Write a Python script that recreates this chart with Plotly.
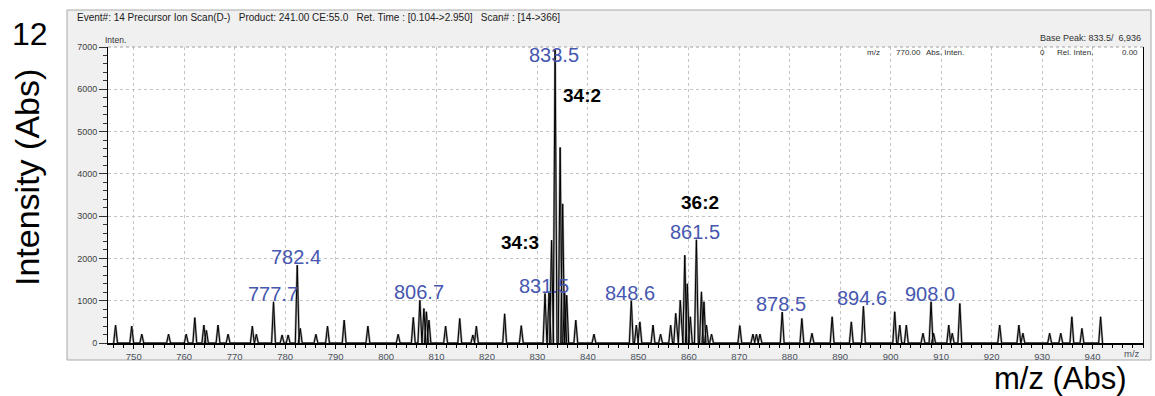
import plotly.graph_objects as go

# Precursor ion scan (D-), product m/z 241.00 — centroid peaks read as m/z / abs. intensity
peak_mz = [
    746.4, 749.6, 751.6, 756.9, 760.4, 762.1, 763.9, 764.4, 766.7, 768.7,
    773.5, 774.3, 777.7, 779.4, 780.6, 782.4, 783.0, 786.1, 788.4, 791.7,
    796.4, 802.4, 805.4, 806.7, 807.5, 808.0, 808.5, 811.8, 814.6, 817.2,
    817.9, 823.5, 826.8, 831.5, 832.3, 832.8, 833.5, 834.5, 835.0, 835.4,
    835.8, 837.6, 841.2, 848.6, 849.6, 850.3, 852.9, 854.4, 856.4, 857.4,
    858.3, 859.2, 859.7, 860.3, 861.5, 862.5, 863.0, 863.5, 864.5, 870.1,
    872.7, 873.4, 874.1, 878.5, 882.4, 884.4, 888.4, 892.2, 894.6, 900.8,
    901.8, 903.1, 906.4, 908.0, 908.5, 911.5, 912.2, 913.7, 921.6, 925.4,
    926.2, 931.5, 933.7, 935.9, 937.9, 941.6,
]
peak_int = [
    420, 400, 210, 210, 210, 600, 425, 300, 425, 210,
    400, 205, 975, 190, 190, 1840, 345, 205, 400, 540,
    400, 205, 605, 1010, 815, 740, 540, 400, 580, 190,
    400, 690, 410, 1170, 1210, 2430, 6936, 4625, 3290, 1175,
    1130, 540, 210, 1000, 425, 500, 425, 210, 425, 700,
    1010, 2075, 1400, 620, 2440, 1210, 975, 425, 210, 410,
    210, 210, 210, 730, 580, 230, 620, 500, 870, 740,
    425, 425, 230, 975, 230, 425, 230, 935, 425, 425,
    230, 230, 230, 620, 345, 620,
]

# peaks annotated with their m/z
labelled_mz = [777.7, 782.4, 806.7, 831.5, 833.5, 848.6, 861.5, 878.5, 894.6, 908.0]

# lipid species annotations: (text, m/z, intensity)
species = [("34:2", 838.8, 5845), ("34:3", 826.5, 2380), ("36:2", 862.2, 3323)]

x_ticks = list(range(750, 941, 10))
y_ticks = list(range(0, 7001, 1000))

X_RANGE = [744.9, 950.0]
Y_RANGE = [0, 7000]

# plot-area pixel box inside the 1155x396 page
L, R, T, B = 108, 1143, 47, 343


def px(x):
    return (x - L) / (R - L)


def py(y):
    return (B - y) / (B - T)


# narrow triangular profile for each centroid
HALF = 0.38
prof_x, prof_y = [], []
for mz, h in sorted(zip(peak_mz, peak_int)):
    prof_x += [mz - HALF, mz, mz + HALF]
    prof_y += [0, h, 0]

fig = go.Figure()
# soft grey halo under the black trace, as the instrument software renders it
fig.add_trace(go.Scatter(x=prof_x, y=prof_y, mode="lines",
                         line=dict(color="#9a9a9a", width=2.2),
                         hoverinfo="skip"))
fig.add_trace(go.Scatter(x=prof_x, y=prof_y, mode="lines",
                         line=dict(color="black", width=1),
                         hoverinfo="skip"))

grid = dict(showgrid=True, gridcolor="#c4c4c4", gridwidth=1, griddash="3px,3px")

fig.update_xaxes(range=X_RANGE, tickvals=x_ticks, ticks="outside", ticklen=4,
                 tickcolor="black", showline=True, linecolor="black", linewidth=2,
                 zeroline=False,
                 tickfont=dict(family="Liberation Sans", size=9.5, color="#4a505c"),
                 minor=dict(tick0=750, dtick=2, ticks="outside", ticklen=3,
                            tickcolor="black", showgrid=False),
                 **grid)
fig.update_yaxes(range=Y_RANGE, tickvals=y_ticks, ticks="outside", ticklen=8,
                 tickcolor="#333333", showline=True, linecolor="black", linewidth=1,
                 mirror=True, zeroline=False,
                 tickfont=dict(family="Liberation Sans", size=9, color="#404040"),
                 minor=dict(tick0=0, dtick=200, ticks="outside", ticklen=4,
                            tickcolor="#333333", showgrid=False),
                 **grid)

shapes = [
    # instrument window panel
    dict(type="rect", xref="paper", yref="paper", layer="below",
         x0=px(67), x1=px(1151), y0=py(360), y1=py(10),
         fillcolor="#f0f0f0", line=dict(color="#a8a8a8", width=1)),
    # white spectrum area
    dict(type="rect", xref="paper", yref="paper", layer="below",
         x0=0, x1=1, y0=0, y1=1, fillcolor="white", line=dict(width=0)),
    # dashed top edge
    dict(type="line", xref="paper", yref="paper", x0=0, x1=1, y0=1, y1=1,
         line=dict(color="#a0a0a0", width=1, dash="3px,3px")),
]

ann = []
BLUE = "#4657b0"
for mz in labelled_mz:
    h = peak_int[peak_mz.index(mz)]
    ann.append(dict(x=mz, y=min(h, 6620), xref="x", yref="y", text=f"{mz:.1f}",
                    showarrow=False, xanchor="center", yanchor="middle",
                    xshift=-1, yshift=8,
                    font=dict(family="Liberation Sans", size=20, color=BLUE)))
for txt, mz, h in species:
    ann.append(dict(x=mz, y=h, xref="x", yref="y", text=f"<b>{txt}</b>",
                    showarrow=False, xanchor="center", yanchor="middle",
                    font=dict(family="Liberation Sans", size=19, color="black")))

small = dict(family="Liberation Sans", size=9, color="#303030")
ann += [
    dict(x=px(75), y=py(17), xref="paper", yref="paper", xanchor="left",
         yanchor="middle", showarrow=False,
         text="Event#: 14 Precursor Ion Scan(D-)&nbsp;&nbsp;&nbsp;Product: 241.00 CE:55.0"
              "&nbsp;&nbsp;&nbsp;Ret. Time : [0.104->2.950]&nbsp;&nbsp;&nbsp;Scan# : [14->366]",
         font=dict(family="Liberation Sans", size=10, color="#202020")),
    dict(x=px(103), y=py(40), xref="paper", yref="paper", xanchor="left",
         yanchor="middle", showarrow=False, text="Inten.",
         font=dict(family="Liberation Sans", size=8.5, color="#303030")),
    dict(x=px(1143), y=py(38), xref="paper", yref="paper", xanchor="right",
         yanchor="middle", showarrow=False, text="Base Peak: 833.5/&nbsp; 6,936",
         font=small),
    dict(x=px(1142), y=py(353), xref="paper", yref="paper", xanchor="right",
         yanchor="middle", showarrow=False, text="m/z",
         font=dict(family="Liberation Sans", size=9.5, color="#4a505c")),
]
info_font = dict(family="Liberation Sans", size=8, color="#303030")
info = [("m/z", 882), ("770.00", 923), ("Abs. Inten.", 966), ("0", 1047),
        ("Rel. Inten.", 1095), ("0.00", 1140)]
for txt, xr in info:
    ann.append(dict(x=px(xr), y=py(52), xref="paper", yref="paper", xanchor="right",
                    yanchor="middle", showarrow=False, text=txt, font=info_font))

big = dict(family="Liberation Sans", size=32, color="black")
ann += [
    dict(x=px(30), y=py(34), xref="paper", yref="paper", xanchor="center",
         yanchor="middle", showarrow=False, text="12", font=big),
    dict(x=px(27), y=py(178), xref="paper", yref="paper", xanchor="center",
         yanchor="middle", showarrow=False, text="Intensity (Abs)", textangle=-90,
         font=dict(family="Liberation Sans", size=34, color="black")),
    dict(x=px(1060), y=py(378), xref="paper", yref="paper", xanchor="center",
         yanchor="middle", showarrow=False, text="m/z (Abs)",
         font=dict(family="Liberation Sans", size=31, color="black")),
]

fig.update_layout(width=1155, height=396,
                  margin=dict(l=L, r=1155 - R, t=T, b=396 - B),
                  paper_bgcolor="white", plot_bgcolor="rgba(0,0,0,0)",
                  showlegend=False, shapes=shapes, annotations=ann)

fig.write_html("out.html")
